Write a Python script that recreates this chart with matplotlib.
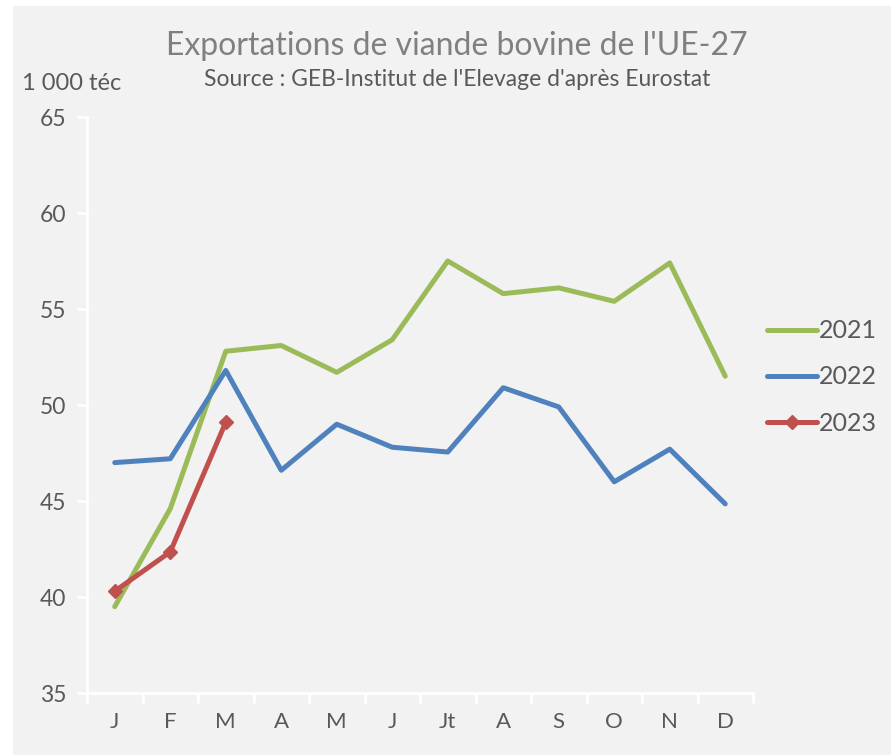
import numpy as np
import matplotlib.pyplot as plt
from matplotlib.patches import Rectangle

plt.rcParams['font.family'] = ['Lato', 'DejaVu Sans']

# Exportations mensuelles (1 000 téc)
mois = ['J', 'F', 'M', 'A', 'M', 'J', 'Jt', 'A', 'S', 'O', 'N', 'D']
exp_2021 = [39.5, 44.6, 52.8, 53.1, 51.7, 53.4, 57.5, 55.8, 56.1, 55.4, 57.4, 51.5]
exp_2022 = [47.0, 47.2, 51.8, 46.6, 49.0, 47.8, 47.55, 50.9, 49.9, 46.0, 47.7, 44.85]
exp_2023 = [40.3, 42.35, 49.1]

fond = '#f2f2f2'
gris_texte = '#595959'

fig = plt.figure(figsize=(8.91, 7.55), dpi=100, facecolor='white')
# cadre gris du graphique
fig.patches.append(Rectangle((13 / 891, 0), 1, 1 - 6 / 755, transform=fig.transFigure,
                             facecolor=fond, edgecolor='none', zorder=-10))

ax = fig.add_axes([87 / 891, 62 / 755, 666 / 891, 576 / 755])
ax.set_facecolor(fond)

x = np.arange(len(mois))
ax.plot(x, exp_2021, color='#9bbb59', lw=3.6, solid_capstyle='round', label='2021')
ax.plot(x, exp_2022, color='#4f81bd', lw=3.6, solid_capstyle='round', label='2022')
ax.plot(x[:len(exp_2023)], exp_2023, color='#c0504d', lw=3.6, marker='D', ms=7,
        solid_capstyle='round', label='2023')

ax.set_xlim(-0.5, 11.5)
ax.set_ylim(35, 65)
ax.set_yticks(range(35, 66, 5))
ax.set_xticks(x)
ax.set_xticklabels(mois)
ax.set_xticks(np.arange(-0.5, 12, 1), minor=True)
ax.tick_params(axis='x', which='major', length=0, pad=14, labelsize=16, labelcolor=gris_texte)
ax.tick_params(axis='x', which='minor', length=7, width=2, color='white')
ax.tick_params(axis='y', length=7, width=2, color='white', pad=8, labelsize=16.5,
               labelcolor=gris_texte)

for s in ['top', 'right']:
    ax.spines[s].set_visible(False)
for s in ['left', 'bottom']:
    ax.spines[s].set_color('white')
    ax.spines[s].set_linewidth(2)

ax.grid(axis='y', color='#f4f4f4', lw=1)
ax.set_axisbelow(True)

fig.text(457 / 891, 1 - 46 / 755, "Exportations de viande bovine de l'UE-27",
         ha='center', va='center', fontsize=23, color='#808080')
fig.text(457 / 891, 1 - 79 / 755, "Source : GEB-Institut de l'Elevage d'après Eurostat",
         ha='center', va='center', fontsize=16.5, color=gris_texte)
fig.text(22 / 891, 1 - 83 / 755, '1 000 téc', ha='left', va='center',
         fontsize=17, color=gris_texte)

leg = ax.legend(loc='center left', bbox_to_anchor=(744 / 891, 1 - 377 / 755),
                bbox_transform=fig.transFigure, frameon=False, fontsize=18,
                handlelength=2.0, handletextpad=0.1, labelspacing=0.93,
                labelcolor=gris_texte)

fig.savefig('out.png', dpi=100, facecolor=fig.get_facecolor())
